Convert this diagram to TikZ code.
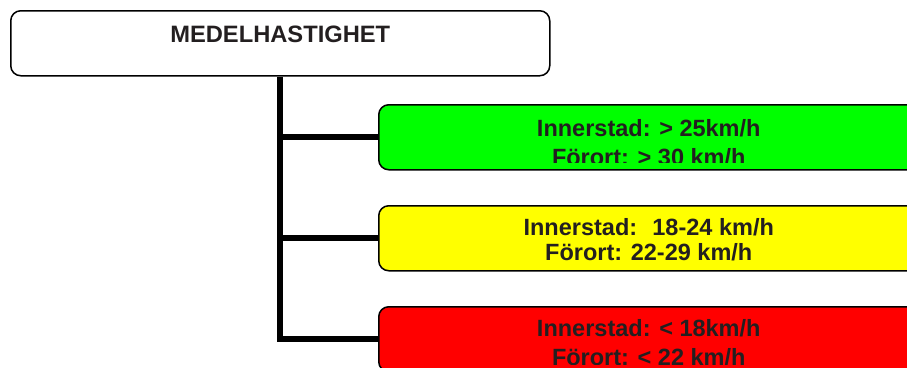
\documentclass[tikz,border=0pt]{standalone}
\usepackage{fontspec}
\setmainfont{Liberation Sans}
\usepackage{xcolor}
\usepackage{tikz}
\definecolor{fastgreen}{RGB}{0,255,0}
\definecolor{midyellow}{RGB}{255,255,0}
\definecolor{slowred}{RGB}{255,0,0}
\definecolor{ink}{RGB}{35,31,32}

\begin{document}
\begin{tikzpicture}[x=1pt,y=-1pt,
        lvl/.style={draw=black,line width=1.5pt,rounded corners=10pt,minimum width=540pt,minimum height=65pt,inner sep=0pt,anchor=north west},
        lbl/.style={font=\fontsize{23.5}{29}\selectfont\bfseries,text=ink,align=center,anchor=base},
        trunk/.style={line width=6pt}]
        \useasboundingbox (0,0) rectangle (907,367);
        \clip (0,0) rectangle (907,367);

        \node[lvl,minimum width=539pt,text width=539pt,text height=31.7pt,text depth=33.3pt,font=\fontsize{23.7}{28}\selectfont\bfseries,text=ink,align=center] (top) at (10,10) {MEDELHASTIGHET};

        \node[lvl,fill=fastgreen] (fast) at (378,104) {};
        \node[lvl,fill=midyellow] (mid) at (378,205) {};
        \node[lvl,fill=slowred] (slow) at (378,306) {};

        % base anchor sits on the last line
        \begin{scope}
            \clip (fast.north west) rectangle ([yshift=8pt]fast.south east);
            \node[lbl] (fasttxt) at ([yshift=-61pt]fast.north) {Innerstad: > 25km/h\\Förort: > 30 km/h};
        \end{scope}
        \begin{scope}
            \clip (mid.north west) rectangle ([yshift=8pt]mid.south east);
            \node[lbl,font=\fontsize{23.5}{24.3}\selectfont\bfseries] (midtxt) at ([yshift=-55pt]mid.north) {Innerstad:~ 18-24 km/h\\Förort: 22-29 km/h};
        \end{scope}
        \begin{scope}
            \clip (slow.north west) rectangle ([yshift=8pt]slow.south east);
            \node[lbl] (slowtxt) at ([yshift=-59.5pt]slow.north) {Innerstad: < 18km/h\\Förort: < 22 km/h};
        \end{scope}

        \draw[trunk] (top.south) |- (slow.west);
        \draw[trunk] (top.south |- fast.west) -- (fast.west);
        \draw[trunk] (top.south |- mid.west) -- (mid.west);
    \end{tikzpicture}
\end{document}
